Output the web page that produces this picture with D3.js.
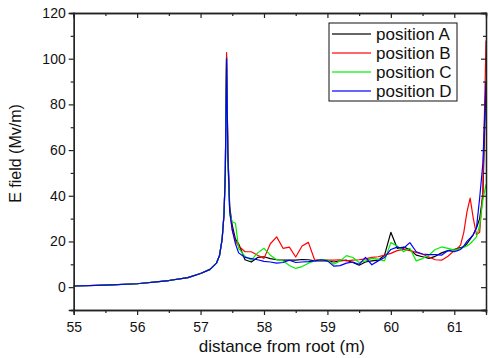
<!DOCTYPE html>
<html>
<head>
<meta charset="utf-8">
<script src="https://cdn.jsdelivr.net/npm/d3@7"></script>
<style>
  body { margin: 0; background: #fff; }
  svg { display: block; font-family: Arial, "Liberation Sans", sans-serif; }
</style>
</head>
<body>
<div id="chart"></div>
<script>
// shared rise towards the first peak (all four positions coincide here)
var riseX = [55, 55.5, 56, 56.5, 56.8, 57, 57.15, 57.25, 57.3, 57.34, 57.37, 57.39];
var riseY = [0.5, 0.9, 1.5, 2.9, 4.2, 6, 7.8, 10.5, 14, 21, 32, 50];

// distance grid after the peak
var distX = [57.41, 57.43, 57.46, 57.5, 57.55, 57.6, 57.7, 57.8, 57.9, 58.0, 58.1, 58.2, 58.3, 58.4,
  58.5, 58.6, 58.7, 58.8, 58.9, 59.0, 59.1, 59.2, 59.3, 59.4, 59.5, 59.6, 59.7, 59.8, 59.9,
  60.0, 60.1, 60.2, 60.3, 60.4, 60.5, 60.6, 60.7, 60.8, 60.9, 61.0, 61.05, 61.1, 61.15, 61.2,
  61.25, 61.3, 61.35, 61.4, 61.45, 61.5];

var posA = [101, 60, 35, 27, 21, 19, 12, 11, 13, 13.3, 12.5, 12, 11.8, 11.8,
  11.8, 12.1, 12, 11.5, 11.5, 11.5, 11, 11.5, 11.8, 10.8, 9.6, 11, 11.5, 11.8, 14,
  24, 17, 17.5, 16.5, 14, 13.3, 12.6, 13.5, 15, 16, 16.5, 17, 17.3, 17.6, 19,
  21, 23, 26, 30, 40, 90];
var posB = [102.7, 60, 33, 25, 20, 18, 15.5, 15.5, 14, 12.6, 19, 22, 17, 17.5,
  13.2, 18, 19.6, 11.8, 12, 11.8, 11.8, 12, 11.5, 11.8, 12, 12.4, 13, 13.3, 14,
  14.8, 16, 16.5, 16, 15.2, 14.4, 13.2, 12, 11.8, 13.5, 16, 17, 18.5, 24, 33,
  39, 30, 23, 24, 42, 108];
var posC = [100, 55, 32, 28.6, 28, 17, 13.5, 11.8, 15, 17, 14, 12, 11.5, 9.5,
  8.2, 9, 10.5, 11.5, 12, 11.8, 10, 11.5, 13.8, 13, 10.8, 11.5, 12.6, 12.3, 11.5,
  19.5, 18, 15.5, 17, 11.5, 12.5, 14, 16.5, 17.6, 17, 16.2, 16.5, 17, 17.5, 18,
  19, 20.5, 22, 27, 38, 45];
var posD = [100, 58, 33, 25, 19, 15, 13, 12.5, 12, 11.3, 11, 10.5, 10.8, 11.8,
  10.8, 11, 11.2, 11.5, 12, 11.5, 9.2, 9.4, 10.5, 11, 10, 13, 9.8, 11.5, 13,
  16.5, 17.5, 17, 19.5, 15.5, 14.5, 14.2, 14.2, 14, 16, 15.5, 16, 16.5, 18, 20,
  21.5, 23, 26, 39, 54, 90];

var seriesNames = ["position A", "position B", "position C", "position D"];
var seriesColors = ["#000000", "#ff0000", "#00ee00", "#0000ff"];
var seriesValues = [posA, posB, posC, posD];

var xTicks = [55, 56, 57, 58, 59, 60, 61];
var yTicks = [0, 20, 40, 60, 80, 100, 120];

(function () {
  var W = 489, H = 358;
  var mLeft = 73.7, mRight = 486, mTop = 13, mBottom = 310;

  var svg = d3.select("#chart").append("svg")
    .attr("width", W)
    .attr("height", H);

  var x = d3.scaleLinear().domain([55, 61.5]).range([mLeft, mRight]);
  var y = d3.scaleLinear().domain([-10, 120]).range([mBottom, mTop]);

  // lines
  var line = d3.line()
    .x(d => x(d[0]))
    .y(d => y(d[1]));

  var plot = svg.append("g");
  seriesValues.forEach((vals, i) => {
    var pts = riseX.map((v, k) => [v, riseY[k]])
      .concat(distX.map((v, k) => [v, vals[k]]));
    plot.append("path")
      .datum(pts)
      .attr("fill", "none")
      .attr("stroke", seriesColors[i])
      .attr("stroke-width", 1.2)
      .attr("stroke-linejoin", "round")
      .attr("d", line);
  });

  // axes
  var minorX = d3.range(55.5, 61.6, 1);
  var minorY = d3.range(-10, 121, 20);

  var axCol = "#222";
  var bx = svg.append("g").attr("transform", "translate(0," + mBottom + ")")
    .call(d3.axisBottom(x).tickValues(xTicks).tickSize(5).tickFormat(d3.format("d")));
  bx.append("g").call(d3.axisBottom(x).tickValues(minorX).tickSize(3).tickFormat(""));

  var ly = svg.append("g").attr("transform", "translate(" + mLeft + ",0)")
    .call(d3.axisLeft(y).tickValues(yTicks).tickSize(5).tickFormat(d3.format("d")));
  ly.append("g").call(d3.axisLeft(y).tickValues(minorY).tickSize(3).tickFormat(""));

  var tx = svg.append("g").attr("transform", "translate(0," + mTop + ")")
    .call(d3.axisTop(x).tickValues(xTicks).tickSize(-5).tickFormat(""));
  tx.append("g").call(d3.axisTop(x).tickValues(minorX).tickSize(-3).tickFormat(""));

  var ry = svg.append("g").attr("transform", "translate(" + mRight + ",0)")
    .call(d3.axisRight(y).tickValues(yTicks).tickSize(-5).tickFormat(""));
  ry.append("g").call(d3.axisRight(y).tickValues(minorY).tickSize(-3).tickFormat(""));

  [bx, ly, tx, ry].forEach(g => {
    g.selectAll(".domain").attr("stroke", axCol).attr("stroke-width", 1.3);
    g.selectAll("line").attr("stroke", axCol).attr("stroke-width", 1.2);
    g.selectAll("text").attr("fill", "#111").style("font-size", "14px")
      .style("font-family", "Arial, 'Liberation Sans', sans-serif");
  });
  bx.selectAll("text").attr("dy", "1.0em");
  ly.selectAll("text").attr("x", -8);

  // axis titles
  svg.append("text")
    .attr("x", (mLeft + mRight) / 2 + 2)
    .attr("y", 352)
    .attr("text-anchor", "middle")
    .style("font-size", "17px")
    .attr("fill", "#111")
    .text("distance from root (m)");

  svg.append("text")
    .attr("transform", "translate(21," + ((mTop + mBottom) / 2 - 8) + ") rotate(-90)")
    .attr("text-anchor", "middle")
    .style("font-size", "16px")
    .attr("fill", "#111")
    .text("E field (Mv/m)");

  // legend
  var lg = svg.append("g");
  lg.append("rect")
    .attr("x", 329).attr("y", 23)
    .attr("width", 128).attr("height", 78)
    .attr("fill", "#fff")
    .attr("stroke", "#111")
    .attr("stroke-width", 1);

  seriesNames.forEach((name, i) => {
    var cy = 34 + i * 19;
    lg.append("line")
      .attr("x1", 332).attr("x2", 371)
      .attr("y1", cy).attr("y2", cy)
      .attr("stroke", seriesColors[i])
      .attr("stroke-opacity", 0.6)
      .attr("stroke-width", 2);
    lg.append("text")
      .attr("x", 376).attr("y", cy)
      .attr("dy", "0.35em")
      .style("font-size", "17px")
      .attr("fill", "#111")
      .text(name);
  });
})();
</script>
</body>
</html>
